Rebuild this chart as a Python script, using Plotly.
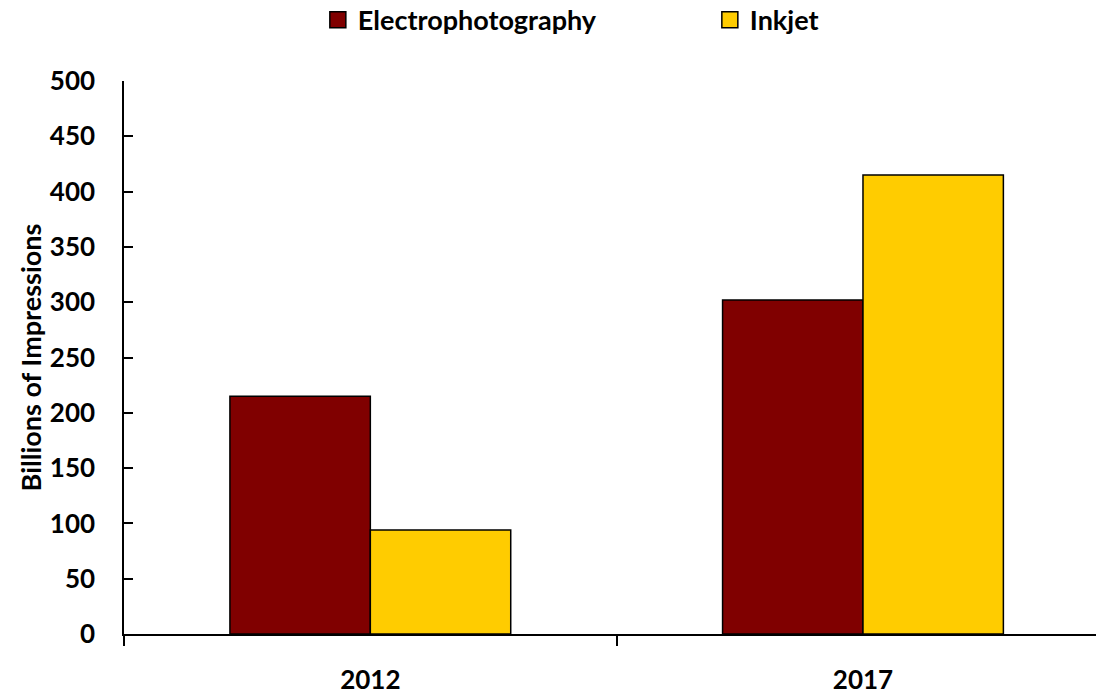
import plotly.graph_objects as go

# Print volume by technology (billions of impressions)
years = ["2012", "2017"]
electrophotography = [215, 302]
inkjet = [94, 415]

y_ticks = [0, 50, 100, 150, 200, 250, 300, 350, 400, 450, 500]

FONT = "Lato"
COLORS = {"Electrophotography": "#800000", "Inkjet": "#FFCC00"}
BAR_LINE = dict(color="#000000", width=1.5)

fig = go.Figure()
for name, values in (("Electrophotography", electrophotography), ("Inkjet", inkjet)):
    fig.add_trace(go.Bar(
        name=name, x=years, y=values, legendgroup=name, showlegend=False,
        marker=dict(color=COLORS[name], line=BAR_LINE),
    ))
    # larger square swatch for the legend entry
    fig.add_trace(go.Scatter(
        name=name, x=[None], y=[None], mode="markers", legendgroup=name,
        marker=dict(symbol="square", size=16, color=COLORS[name],
                    line=dict(color="#000000", width=1.5)),
    ))

fig.update_layout(
    width=1096, height=695,
    margin=dict(l=124, r=0, t=81, b=61, autoexpand=False),
    plot_bgcolor="white", paper_bgcolor="white",
    barmode="group", bargap=0.43, bargroupgap=0,
    font=dict(family=FONT, size=26, color="#000000", weight="bold"),
    showlegend=True,
    legend=dict(
        orientation="h", xref="container", yref="container",
        x=0.29, xanchor="left", y=0.971, yanchor="middle",
        font=dict(family=FONT, size=27, weight="bold"),
        entrywidth=347, entrywidthmode="pixels",
        itemwidth=30, itemsizing="trace", tracegroupgap=0,
    ),
)

fig.update_xaxes(
    type="category", range=[-0.5, 1.473],
    showline=True, linecolor="#000000", linewidth=1.5,
    ticks="outside", tickson="boundaries", ticklen=10, tickwidth=1.5,
    tickcolor="#000000", ticklabelstandoff=22,
    showgrid=False, zeroline=False,
)
fig.update_yaxes(
    range=[0, 500], tickvals=y_ticks,
    showline=True, linecolor="#000000", linewidth=1.5,
    ticks="inside", ticklen=9, tickwidth=1.5, tickcolor="#000000",
    ticklabelstandoff=22,
    showgrid=False, zeroline=False,
    title=dict(text="Billions of Impressions", standoff=0,
               font=dict(family=FONT, size=27, weight="bold")),
)

fig.write_html("out.html")
